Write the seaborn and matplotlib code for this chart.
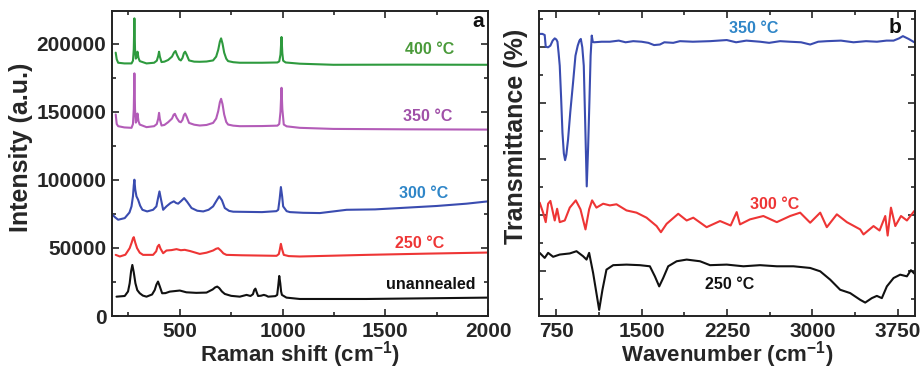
import numpy as np
import pandas as pd
import matplotlib
matplotlib.use("Agg")
import matplotlib.pyplot as plt
from matplotlib.ticker import MultipleLocator, NullFormatter
import seaborn as sns


# DATOS - RAMAN (panel a)

raman_400_x = [188, 193, 200, 230, 265, 272, 276, 279, 282, 286, 290, 294, 299, 305, 338, 375, 388, 395,
               399, 403, 411, 425, 443, 462, 472, 479, 487, 497, 505, 513, 520, 526, 533, 545, 570, 597,
               630, 662, 677, 687, 695, 701, 708, 716, 726, 735, 760, 792, 900, 975, 984, 990, 995, 999,
               1003, 1015, 1084, 1247, 1600, 2000]
raman_400_y = [193400, 188500, 186000, 185500, 185500, 187500, 196000, 218600, 196000, 189000, 190500,
               194100, 189500, 187200, 185500, 186000, 187500, 191000, 194100, 190500, 186500, 186800,
               188000, 190500, 193500, 194600, 191500, 188500, 187700, 189500, 193000, 194100, 192000,
               187700, 186800, 186700, 186900, 187700, 190500, 195500, 201500, 203900, 200000, 193400,
               189000, 187200, 186400, 186000, 186000, 186200, 187000, 192000, 204900, 193000, 187500,
               186200, 185300, 184500, 184600, 184500]

raman_350_x = [188, 193, 200, 230, 265, 272, 276, 279, 282, 286, 290, 294, 299, 305, 338, 375, 388, 395,
               399, 403, 411, 425, 443, 462, 470, 476, 485, 497, 505, 513, 520, 526, 533, 545, 570, 597,
               630, 662, 677, 687, 695, 701, 708, 716, 726, 735, 760, 792, 900, 975, 984, 990, 995, 999,
               1006, 1020, 1084, 1247, 1600, 2000]
raman_350_y = [148000, 141000, 139400, 138500, 138200, 141000, 152000, 178200, 152000, 142000, 144000,
               148700, 143000, 140600, 138700, 139400, 141000, 145000, 149200, 144500, 139900, 140300,
               142300, 145000, 147800, 148500, 145500, 142800, 142300, 144000, 147500, 148700, 146500,
               141800, 140500, 139900, 140300, 141800, 145000, 150500, 157000, 159500, 155500, 148000,
               142500, 140600, 139800, 139400, 139500, 139800, 141000, 150000, 167600, 152000, 140600,
               139300, 138200, 137400, 137100, 136900]

raman_300_x = [172, 185, 200, 232, 255, 265, 272, 276, 279, 283, 289, 297, 307, 318, 341, 370, 386, 394,
               401, 408, 419, 435, 455, 471, 482, 492, 507, 521, 535, 557, 585, 614, 640, 662, 680, 692,
               705, 719, 740, 760, 900, 970, 979, 986, 992, 998, 1003, 1020, 1036, 1100, 1182, 1312,
               1450, 1571, 1750, 1896, 2000]
raman_300_y = [74400, 72500, 70700, 71900, 76000, 80500, 88000, 96000, 100100, 93000, 87900, 85400,
               81000, 78000, 76800, 78000, 80500, 86500, 91500, 86000, 78000, 80500, 83000, 84200, 83000,
               82500, 84500, 86600, 84000, 79300, 77300, 76800, 78000, 80500, 85000, 87900, 85000, 79300,
               77200, 76600, 76300, 77000, 78000, 86000, 94700, 88000, 80500, 77000, 76300, 75800, 75600,
               78000, 78300, 79300, 80800, 82500, 84200]

raman_250_x = [188, 208, 235, 256, 266, 272, 276, 283, 292, 305, 321, 370, 385, 392, 399, 406, 419, 435,
               460, 484, 505, 524, 550, 597, 630, 662, 677, 687, 700, 712, 727, 800, 971, 982, 987, 992,
               997, 1006, 1030, 1084, 1409, 1700, 2000]
raman_250_y = [44900, 43700, 45000, 49800, 54000, 57000, 57900, 54000, 49800, 46500, 44900, 44900,
               47500, 51000, 52300, 49500, 46100, 48100, 48400, 49100, 48300, 48600, 47700, 45600, 46500,
               48100, 49400, 49800, 48000, 46000, 44900, 44600, 44200, 45500, 49000, 53000, 49500, 44900,
               44000, 43700, 44900, 45800, 46600]

raman_un_x = [192, 232, 248, 256, 263, 269, 276, 284, 293, 305, 320, 338, 365, 378, 386, 394, 402, 414,
              430, 451, 500, 532, 580, 630, 660, 672, 682, 692, 705, 719, 750, 792, 825, 844, 856, 862,
              868, 874, 881, 895, 909, 920, 930, 965, 974, 979, 984, 989, 993, 997, 1019, 1084, 1409, 2000]
raman_un_y = [14200, 14700, 18000, 24000, 33000, 37500, 32000, 24000, 19000, 16700, 15000, 14200,
              15800, 19100, 23000, 25300, 22000, 16700, 16800, 17900, 18700, 17400, 17000, 17200, 19500,
              21000, 21600, 20500, 18000, 16200, 14800, 14200, 15500, 14700, 16000, 19000, 20100, 17500,
              14700, 14900, 15500, 15000, 14200, 14600, 15500, 22000, 29400, 24000, 18000, 15500, 13500,
              12500, 12500, 13500]

# DATOS - FTIR (panel b)

ftir_350_x = [606, 630, 650, 659, 680, 700, 720, 738, 752, 762, 772, 782, 794, 806, 818, 829, 840, 855,
              875, 899, 920, 940, 955, 967, 980, 993, 1006, 1019, 1031, 1043, 1053, 1063, 1072, 1081,
              1150, 1222, 1300, 1360, 1427, 1500, 1560, 1610, 1661, 1700, 1778, 1837, 1950, 2101, 2248,
              2330, 2420, 2540, 2620, 2716, 2800, 2900, 2980, 3050, 3126, 3250, 3360, 3470, 3566, 3650,
              3712, 3760, 3794, 3844, 3894]
ftir_350_y = [52.4, 52.4, 52.2, 50.1, 50.0, 50.3, 51.2, 51.6, 51.4, 51.0, 49.0, 46.7, 41.0, 34.7, 31.0,
              29.8, 30.8, 33.5, 38.5, 43.7, 48.5, 50.3, 51.2, 51.5, 50.0, 46.7, 36.0, 25.1, 32.0, 40.7,
              48.5, 52.1, 51.0, 50.9, 51.0, 51.0, 51.2, 50.9, 51.1, 51.0, 50.8, 50.4, 50.5, 50.9, 50.8,
              51.1, 51.0, 51.1, 51.3, 50.9, 51.2, 51.0, 50.8, 51.1, 51.0, 50.9, 50.5, 51.0, 51.1, 51.2,
              50.9, 51.1, 51.0, 51.2, 51.2, 51.6, 52.0, 51.5, 50.9]

ftir_300_x = [606, 636, 659, 680, 700, 738, 759, 782, 826, 870, 923, 964, 1008, 1040, 1066, 1104, 1163,
              1222, 1280, 1368, 1456, 1544, 1632, 1670, 1720, 1822, 1896, 1954, 2071, 2189, 2282, 2335,
              2364, 2452, 2569, 2687, 2804, 2892, 2980, 3068, 3126, 3214, 3302, 3419, 3448, 3536, 3589,
              3639, 3660, 3689, 3727, 3777, 3829, 3894]
ftir_300_y = [22.2, 20.4, 18.7, 22.0, 22.5, 19.0, 21.1, 18.7, 19.0, 21.3, 22.6, 21.0, 17.4, 21.0, 22.6,
              21.3, 22.0, 21.7, 21.9, 20.8, 20.4, 19.5, 18.0, 16.9, 18.4, 20.2, 19.0, 19.5, 17.8, 18.9,
              18.1, 20.5, 18.3, 19.2, 19.8, 18.7, 19.8, 20.4, 18.6, 20.4, 17.8, 20.1, 18.7, 17.4, 16.5,
              18.0, 17.2, 19.8, 16.3, 21.3, 18.0, 19.8, 19.0, 20.7]

ftir_250_x = [606, 650, 680, 724, 782, 870, 929, 987, 1017, 1040, 1075, 1104, 1128, 1157, 1192, 1251,
              1368, 1485, 1573, 1617, 1655, 1690, 1734, 1808, 1896, 2013, 2101, 2248, 2394, 2540, 2687,
              2833, 2980, 3068, 3156, 3243, 3331, 3419, 3463, 3521, 3565, 3609, 3653, 3712, 3770, 3829,
              3864, 3894]
ftir_250_y = [13.2, 12.3, 13.2, 12.5, 12.9, 13.1, 13.5, 12.6, 12.0, 13.2, 9.6, 6.0, 3.0, 6.6, 10.2,
              11.0, 11.1, 11.0, 10.8, 9.0, 7.2, 8.7, 10.8, 11.7, 12.0, 11.7, 11.0, 11.1, 10.8, 11.0,
              10.8, 10.8, 10.5, 9.9, 8.4, 6.6, 6.0, 4.8, 4.3, 5.1, 5.5, 5.1, 7.2, 8.7, 9.3, 9.0, 10.1, 9.5]


# ESTILO

sns.set_theme(style="ticks")
plt.rcParams["font.family"] = ["Liberation Sans", "DejaVu Sans"]
plt.rcParams["font.weight"] = "bold"
plt.rcParams["axes.labelweight"] = "bold"
plt.rcParams["mathtext.fontset"] = "custom"
plt.rcParams["mathtext.rm"] = "Liberation Sans:bold"
plt.rcParams["mathtext.default"] = "rm"

VERDE   = "#2e9a3e"
MORADO  = "#b35cb8"
AZUL    = "#3a4cb0"
ROJO    = "#ee3535"
NEGRO   = "#111111"
AZUL_TX = "#2f86c8"
ETIQ    = 11.5


def estilo_ejes(ax):
    for s in ax.spines.values():
        s.set_linewidth(1.4)
        s.set_color("#222222")
    ax.tick_params(which="both", direction="in", top=True, right=True,
                   width=1.2, labelsize=15, pad=4)
    ax.tick_params(which="major", length=5)
    ax.tick_params(which="minor", length=3)


fig = plt.figure(figsize=(9.22, 3.69), dpi=100)
ax1 = fig.add_axes([112 / 922, 53 / 369, 376 / 922, 305 / 369])
ax2 = fig.add_axes([539 / 922, 53 / 369, 376 / 922, 305 / 369])

# Panel a
for xs, ys, c in [(raman_un_x, raman_un_y, NEGRO), (raman_250_x, raman_250_y, ROJO),
                  (raman_300_x, raman_300_y, AZUL), (raman_350_x, raman_350_y, MORADO),
                  (raman_400_x, raman_400_y, VERDE)]:
    df = pd.DataFrame({"x": xs, "y": ys})
    sns.lineplot(data=df, x="x", y="y", ax=ax1, color=c, linewidth=1.5, sort=False)

ax1.set_xlim(170, 2000)
ax1.set_ylim(0, 224000)
ax1.xaxis.set_major_locator(MultipleLocator(500))
ax1.xaxis.set_minor_locator(MultipleLocator(250))
ax1.yaxis.set_major_locator(MultipleLocator(50000))
ax1.yaxis.set_minor_locator(MultipleLocator(25000))
ax1.set_xlabel("Raman shift (cm$^{-1}$)", fontsize=16)
ax1.set_ylabel("Intensity (a.u.)", fontsize=18)
ax1.xaxis.set_label_coords(0.5, -0.075)
ax1.yaxis.set_label_coords(-0.21, 0.552)
estilo_ejes(ax1)

ax1.text(1717, 195800, "400 °C", color="#4a9a3a", fontsize=ETIQ, ha="center", va="center", weight="bold")
ax1.text(1706, 146300, "350 °C", color="#a050a8", fontsize=ETIQ, ha="center", va="center", weight="bold")
ax1.text(1685, 90300, "300 °C", color=AZUL_TX, fontsize=ETIQ, ha="center", va="center", weight="bold")
ax1.text(1666, 53500, "250 °C", color=ROJO, fontsize=ETIQ, ha="center", va="center", weight="bold")
ax1.text(1723, 22800, "unannealed", color=NEGRO, fontsize=ETIQ, ha="center", va="center", weight="bold")
ax1.text(1950, 216000, "a", color=NEGRO, fontsize=15, ha="center", va="center", weight="bold")

# Panel b
for xs, ys, c in [(ftir_250_x, ftir_250_y, NEGRO), (ftir_300_x, ftir_300_y, ROJO),
                  (ftir_350_x, ftir_350_y, AZUL)]:
    df = pd.DataFrame({"x": xs, "y": ys})
    sns.lineplot(data=df, x="x", y="y", ax=ax2, color=c, linewidth=1.5, sort=False)

ax2.set_xlim(600, 3900)
ax2.set_ylim(1.9, 56.5)
ax2.xaxis.set_major_locator(MultipleLocator(750))
ax2.xaxis.set_minor_locator(MultipleLocator(375))
ax2.yaxis.set_major_locator(MultipleLocator(10))
ax2.yaxis.set_minor_locator(MultipleLocator(5))
ax2.yaxis.set_major_formatter(NullFormatter())
ax2.set_xlabel("Wavenumber (cm$^{-1}$)", fontsize=16)
ax2.set_ylabel("Transmittance (%)", fontsize=18)
ax2.xaxis.set_label_coords(0.5, -0.075)
ax2.yaxis.set_label_coords(-0.029, 0.59)
estilo_ejes(ax2)

ax2.text(2487, 53.4, "350 °C", color=AZUL_TX, fontsize=ETIQ, ha="center", va="center", weight="bold")
ax2.text(2672, 21.9, "300 °C", color=ROJO, fontsize=ETIQ, ha="center", va="center", weight="bold")
ax2.text(2271, 7.5, "250 °C", color=NEGRO, fontsize=ETIQ, ha="center", va="center", weight="bold")
ax2.text(3727, 53.6, "b", color=NEGRO, fontsize=15, ha="center", va="center", weight="bold")

fig.savefig("out.png", dpi=100)
